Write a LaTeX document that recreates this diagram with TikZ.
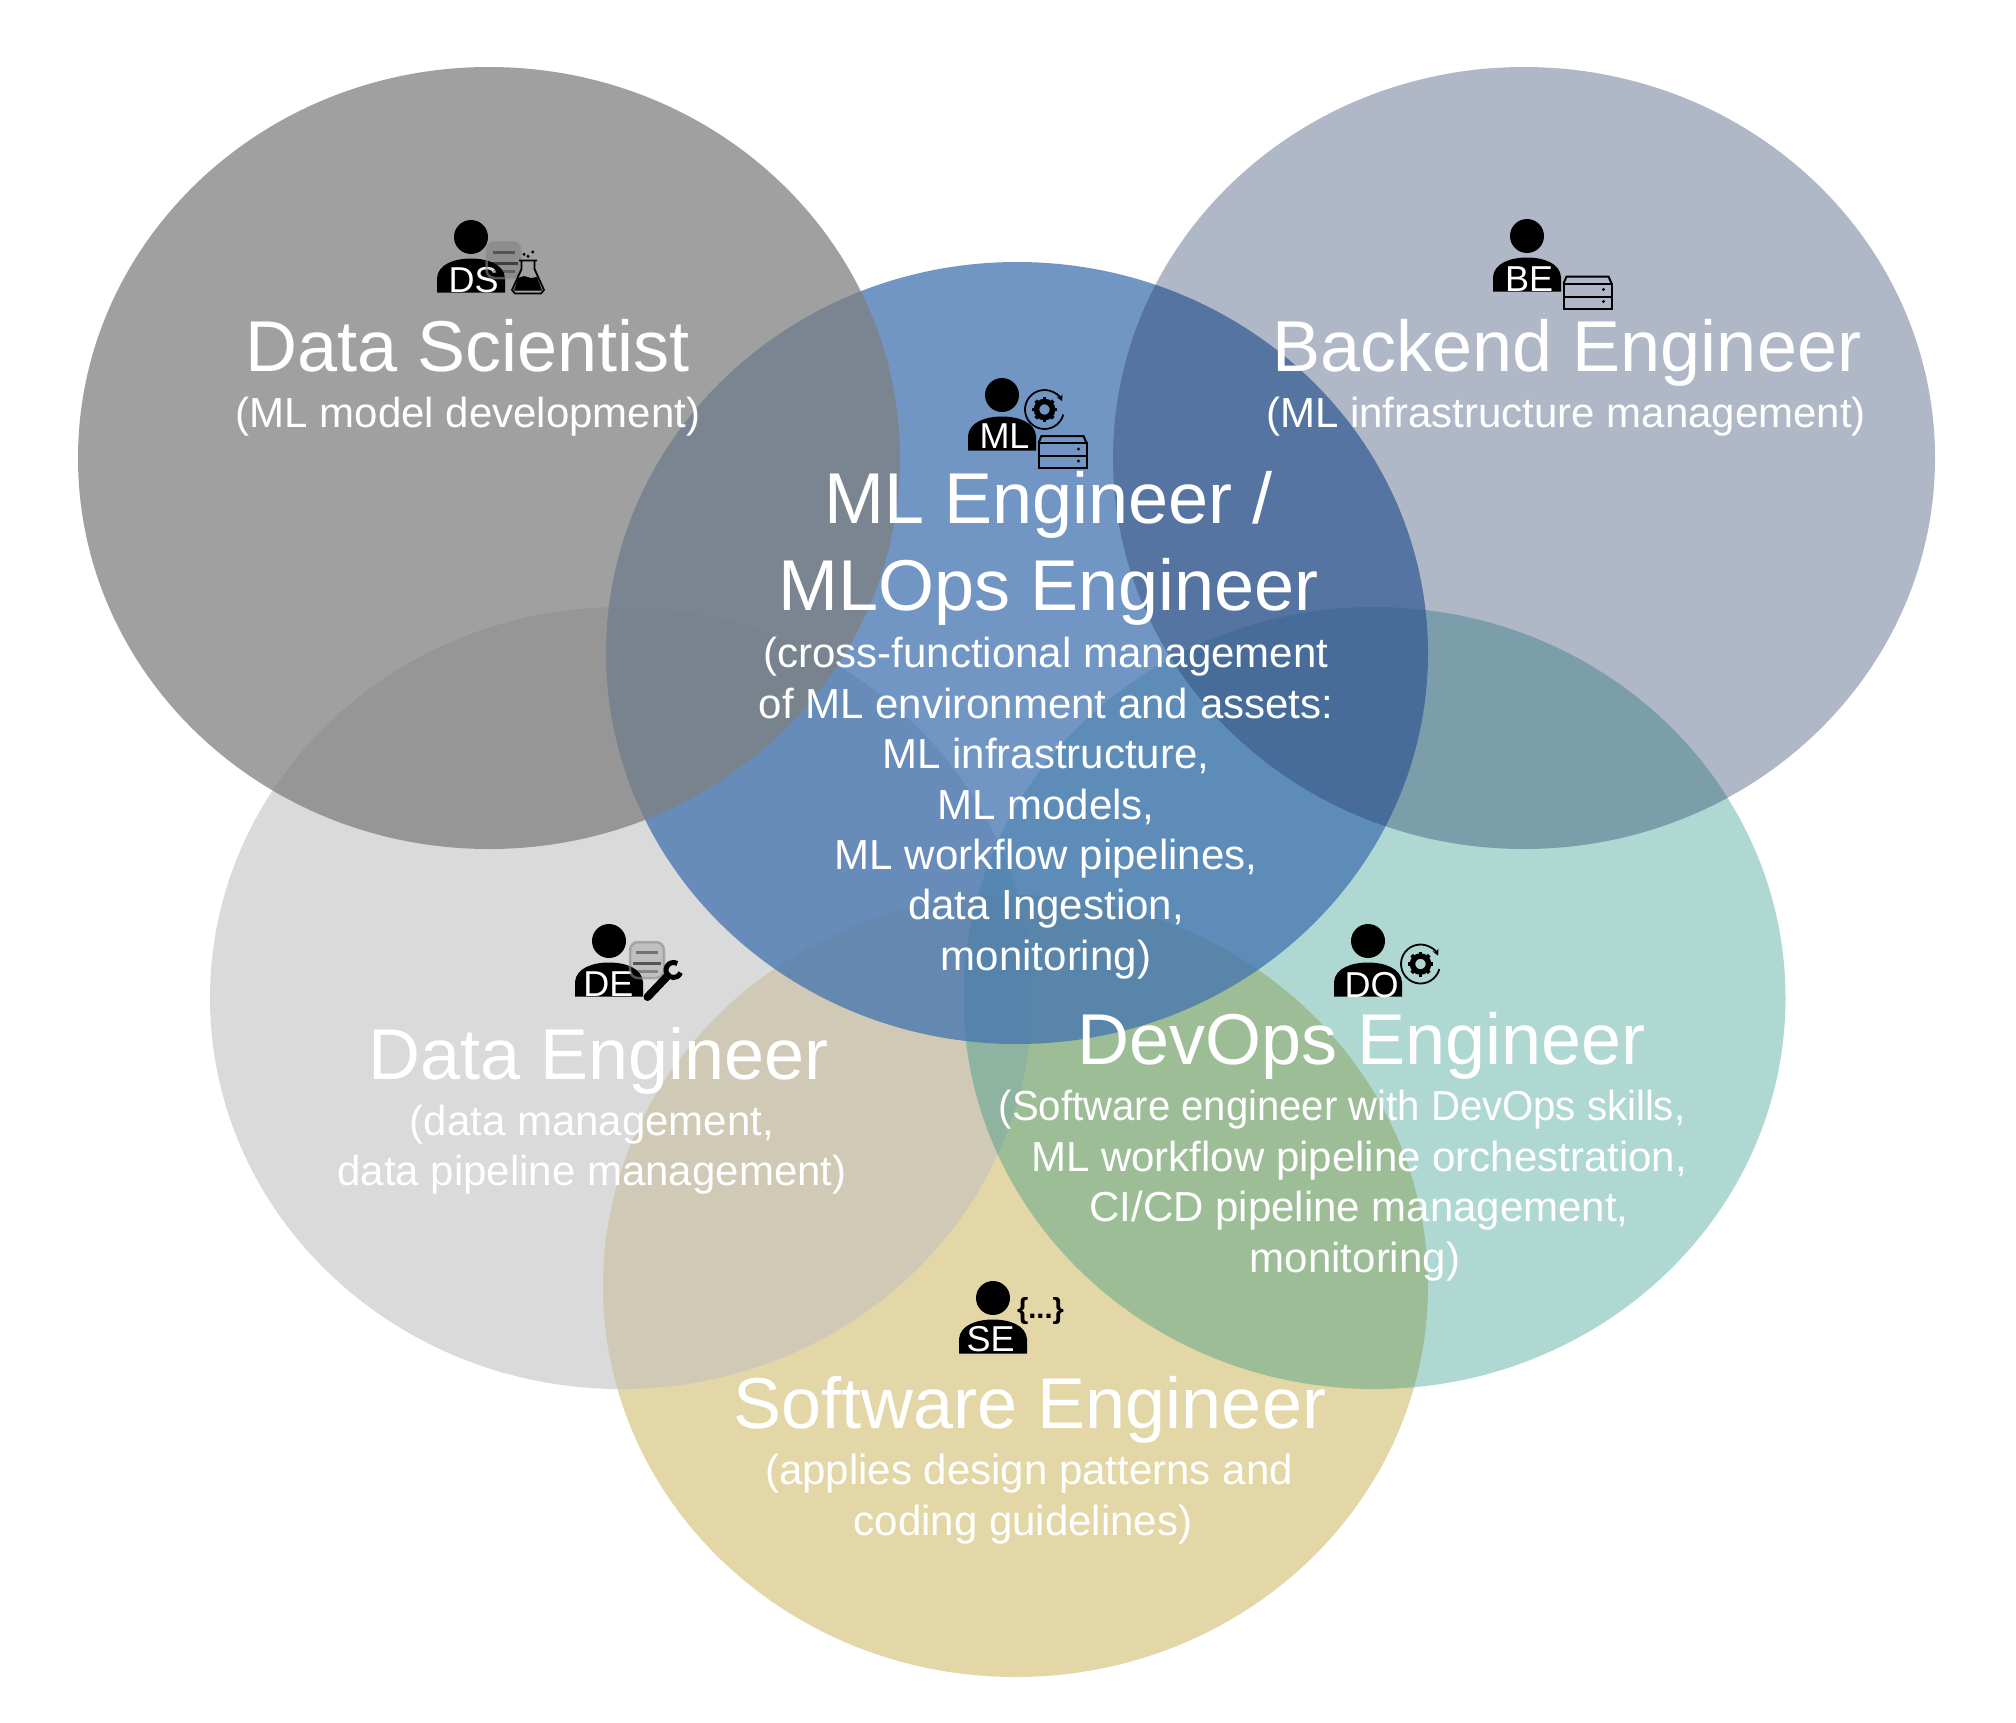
\documentclass[tikz,border=0pt]{standalone}
\usepackage{fontspec}
\setmainfont{Liberation Sans}
\usepackage{tikz}
\usetikzlibrary{arrows, shapes.geometric}
\definecolor{dscolor}{RGB}{127,127,127}
\definecolor{becolor}{RGB}{35,55,100}
\definecolor{mlcolor}{RGB}{66,115,176}
\definecolor{decolor}{RGB}{193,193,193}
\definecolor{docolor}{RGB}{12,137,118}
\definecolor{secolor}{RGB}{228,215,167}
\tikzset{
  role/.style={ellipse, inner sep=0pt, minimum width=822pt, minimum height=782pt},
  rolename/.style={text=white, align=center, inner sep=0pt, anchor=base,
    font=\fontsize{72}{87}\selectfont},
  roledesc/.style={text=white, align=center, inner sep=0pt, anchor=base,
    font=\fontsize{42}{50.4}\selectfont},
  badge/.style={text=white, inner sep=0pt, anchor=base,
    font=\fontsize{36}{36}\selectfont},
  pics/person/.style={code={
    \fill (0,0) circle (17);
    \fill (-34,-55.5) -- (-34,-41) .. controls (-33,-27) and (-16,-21.5) .. (0,-21.5)
      .. controls (16,-21.5) and (33,-27) .. (34,-41) -- (34,-55.5) -- cycle;
  }},
  pics/server/.style={code={
    \draw[line width=2] (-24,9) -- (-21,16) -- (21,16) -- (24,9);
    \draw[line width=2] (-24,-16) rectangle (24,9);
    \draw[line width=2] (-24,-4) -- (24,-4);
    \fill (16,3) circle (1.6);
    \fill (16,-9) circle (1.6);
  }},
  pics/gearcycle/.style={code={
    % the ring with its arrow
    \draw[line width=1.8, -stealth] (-15:19.5) arc (-15:-335:19.5);
    \draw[line width=5.5] (0,0) circle (8);
    \foreach \a in {0,45,...,315} {
      \draw[line width=3.8] (\a:9) -- (\a:12.5);
    }
  }},
  pics/database/.style={code={
    \draw[black!45, draw opacity=.6, fill=black, fill opacity=.12, line width=2.5, rounded corners=8]
      (-17,-18) rectangle (17,18);
    \draw[black, opacity=.4, line width=3] (-11,8) -- (11,8);
    \draw[black, opacity=.55, line width=3] (-14,-3) -- (14,-3);
    \draw[black, opacity=.3, line width=3] (-11,-11) -- (11,-11);
  }},
  pics/flask/.style={code={
    \draw[line width=1.8, line join=round] (-9,16.5) -- (9,16.5) (-6.5,16.5) -- (-6.5,8) -- (-16,-13)
      -- (-13,-16.5) -- (13,-16.5) -- (16,-13) -- (6.5,8) -- (6.5,16.5);
    \fill (-10,-1) -- (-4,1) -- (3,-1) -- (9,0) -- (14,-13.5) -- (-14,-13.5) -- cycle;
    \fill (-4,22.7) circle (1.7);
    \fill (0,20.7) circle (1.7);
    \fill (4.7,25) circle (1.7);
  }},
  pics/wrench/.style={code={
    \draw[line width=8, line cap=round] (-26,-27) -- (-6,-6);
    \draw[line width=5] (60:7.5) arc (60:340:7.5);
  }}
}

\begin{document}
\begin{tikzpicture}[x=1pt, y=1pt]
  \useasboundingbox (0,0) rectangle (2016,-1722);

  % Circles, lowest first
  \node[role, fill=secolor, minimum width=825pt] (secircle) at (1015.5,-1286) {};
  \node[role, fill=decolor, fill opacity=.6] (decircle) at (621,-998) {};
  \node[role, fill=docolor, fill opacity=.33] (docircle) at (1374.5,-998) {};
  \node[role, fill=mlcolor, fill opacity=.75] (mlcircle) at (1017,-653) {};
  \node[role, fill=dscolor, fill opacity=.74] (dscircle) at (489,-458) {};
  \node[role, fill=becolor, fill opacity=.36] (becircle) at (1524,-458) {};

  % Names
  \node[rolename] (dsname) at (468,-371) {Data Scientist};
  \node[rolename] (bename) at (1567,-371) {Backend Engineer};
  \node[rolename] (mlname) at (1048.5,-610) {ML Engineer /\\MLOps Engineer};
  \node[rolename] (dename) at (598.5,-1079) {Data Engineer};
  \node[rolename] (doname) at (1361.5,-1064) {DevOps Engineer};
  \node[rolename] (sename) at (1030,-1428) {Software Engineer};

  % Descriptions
  \node[roledesc] (dsdesc) at (468,-427) {(ML model development)};
  \node[roledesc] (bedesc) at (1566,-427) {(ML infrastructure management)};
  \node[roledesc] (mldesc) at (1046,-970.3) {(cross-functional management\\of ML environment and assets:\\ML infrastructure,\\ML models,\\ML workflow pipelines,\\data Ingestion,\\monitoring)};
  \node[roledesc] (dedesc) at (592,-1185.5) {(data management,\\data pipeline management)};
  \node[roledesc] (dodesc) at (1359,-1272) {\scalebox{.955}[1]{(Software engineer with DevOps skills,}\hspace*{34pt}\\ML workflow pipeline orchestration,\\CI/CD pipeline management,\\monitoring)\hspace*{8pt}};
  \node[roledesc] (sedesc) at (1029,-1535) {(applies design patterns and\\coding guidelines)\hspace*{12pt}};

  % Icons
  \pic (dsperson) at (471,-237) {person};
  \node[badge] (dsbadge) at (473.7,-292) {DS};
  \pic (dsdb) at (503.5,-260) {database};
  \pic (dsflask) at (528,-277) {flask};

  \pic (beperson) at (1527,-236) {person};
  \node[badge] (bebadge) at (1529,-291.7) {BE};
  \pic (beserver) at (1587.5,-292.5) {server};

  \pic (mlperson) at (1002,-395) {person};
  \node[badge] (mlbadge) at (1004.5,-448.3) {ML};
  \pic (mlgear) at (1044.5,-409.5) {gearcycle};
  \pic (mlserver) at (1062.5,-452) {server};

  \pic (deperson) at (609,-941) {person};
  \node[badge] (debadge) at (608.3,-996.7) {DE};
  \pic (dedb) at (647,-960) {database};
  \pic (dewrench) at (673.5,-970) {wrench};

  \pic (doperson) at (1368,-941) {person};
  \node[badge] (dobadge) at (1371.7,-997) {DO};
  \pic (dogear) at (1420.5,-964) {gearcycle};

  \pic (seperson) at (993,-1298) {person};
  \node[badge] (sebadge) at (990.7,-1351.7) {SE};
  \node[inner sep=0pt, font=\bfseries\fontsize{29}{29}\selectfont] (sebraces) at (1040.5,-1311) {\{...\}};
\end{tikzpicture}
\end{document}
